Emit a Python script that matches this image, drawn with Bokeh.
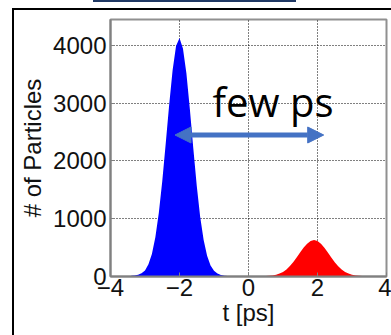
from bokeh.plotting import figure
from bokeh.models import Range1d, Label, Arrow, NormalHead, FixedTicker, InlineStyleSheet
from bokeh.embed import file_html
from bokeh.resources import INLINE

# Blue bunch (t in ps, particle counts)
blue_t = [-3.4, -3.3, -3.2, -3.1, -3.0, -2.9, -2.8, -2.7, -2.6, -2.5, -2.4, -2.3, -2.2, -2.1, -2.0,
          -1.9, -1.8, -1.7, -1.6, -1.5, -1.4, -1.3, -1.2, -1.1, -1.0, -0.9, -0.8, -0.7, -0.6]
blue_n = [12, 18, 30, 55, 105, 210, 390, 680, 1100, 1650, 2300, 2970, 3570, 3990, 4130,
          3950, 3520, 2900, 2220, 1570, 1030, 630, 360, 190, 100, 50, 25, 14, 10]

# Red bunch
red_t = [0.5, 0.6, 0.7, 0.8, 0.9, 1.0, 1.1, 1.2, 1.3, 1.4, 1.5, 1.6, 1.7, 1.8, 1.9,
         2.0, 2.1, 2.2, 2.3, 2.4, 2.5, 2.6, 2.7, 2.8, 2.9, 3.0, 3.1, 3.2, 3.3]
red_n = [8, 12, 18, 30, 50, 80, 122, 180, 250, 332, 418, 500, 568, 614, 630,
         614, 568, 499, 417, 330, 248, 178, 120, 80, 50, 30, 18, 12, 8]

x_ticks = [-4, -2, 0, 2, 4]
y_ticks = [0, 1000, 2000, 3000, 4000]

p = figure(width=391, height=335, output_backend="svg", toolbar_location=None,
           x_range=Range1d(-4, 4), y_range=Range1d(0, 4450),
           min_border_left=110, min_border_right=5, min_border_top=19, min_border_bottom=59,
           background_fill_color="white", border_fill_color="white")

p.varea(x=blue_t, y1=0, y2=blue_n, fill_color="#0000FF")
p.varea(x=red_t, y1=0, y2=red_n, fill_color="#FF0000")

font = "Liberation Sans"
p.xaxis.ticker = FixedTicker(ticks=x_ticks)
p.yaxis.ticker = FixedTicker(ticks=y_ticks)
for ax in (p.xaxis[0], p.yaxis[0]):
    ax.major_label_text_font = font
    ax.major_label_text_font_size = "24px"
    ax.major_label_text_color = "#111111"
    ax.axis_label_text_font = font
    ax.axis_label_text_font_size = "24px"
    ax.axis_label_text_font_style = "normal"
    ax.axis_label_text_color = "#111111"
    ax.axis_line_color = "#808080"
    ax.axis_line_width = 2
    ax.major_tick_in = 4
    ax.major_tick_out = 0
    ax.major_tick_line_color = "#808080"
    ax.minor_tick_line_color = None

p.xaxis.axis_label = "t [ps]"
p.yaxis.axis_label = "# of Particles"
p.xaxis.major_label_standoff = 2
p.xaxis.axis_label_standoff = 0
p.yaxis.major_label_standoff = 4
p.yaxis.axis_label_standoff = 4

p.xgrid.grid_line_color = "black"
p.xgrid.grid_line_dash = "1 2"
p.xgrid.grid_line_width = 1
p.ygrid.grid_line_color = "black"
p.ygrid.grid_line_dash = "1 2"
p.ygrid.grid_line_width = 1
p.outline_line_color = "#909090"
p.outline_line_width = 2

p.add_layout(Arrow(start=NormalHead(size=16, fill_color="#4472C4", line_color="#4472C4"),
                   end=NormalHead(size=16, fill_color="#4472C4", line_color="#4472C4"),
                   x_start=-2.13, y_start=2450, x_end=2.18, y_end=2450,
                   line_color="#4472C4", line_width=5))

p.add_layout(Label(x=-1.04, y=3030, text="few ps", text_font="Open Sans",
                   text_font_size="40px", text_color="black", text_baseline="alphabetic"))

# slide decorations (frame and cut title rule)
p.stylesheets = [InlineStyleSheet(css="""
:host::before { content: ""; position: absolute; left: 12px; top: 8px; width: 400px; height: 400px;
  border-left: 2px solid black; border-top: 2px solid black; z-index: 10; pointer-events: none; }
:host::after { content: ""; position: absolute; left: 93px; top: 0px; width: 203px; height: 2px;
  background: #1F3864; z-index: 10; pointer-events: none; }
""")]

open("out.html", "w").write(file_html(p, INLINE))
